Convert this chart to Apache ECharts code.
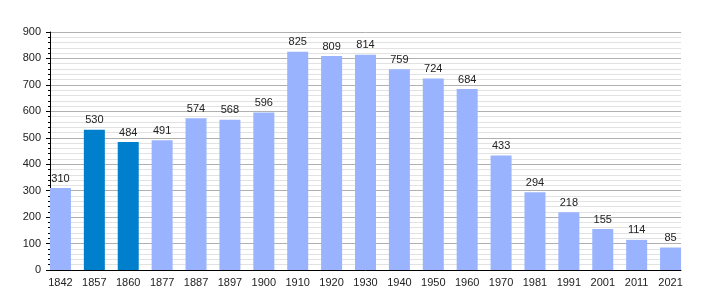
<!DOCTYPE html>
<html><head><meta charset="utf-8">
<script src="https://cdn.jsdelivr.net/npm/echarts@6/dist/echarts.min.js"></script>
<style>html,body{margin:0;padding:0;background:#fff}#c{width:710px;height:300px}</style>
</head><body><div id="c"></div>
<script>
var years = ['1842','1857','1860','1877','1887','1897','1900','1910','1920','1930','1940','1950','1960','1970','1981','1991','2001','2011','2021'];
var population = [310,530,484,491,574,568,596,825,809,814,759,724,684,433,294,218,155,114,85];
var highlighted = ['1857','1860'];
var yTicks = {min:0, max:900, interval:100};

var chart = echarts.init(document.getElementById('c'), null, {renderer:'canvas'});
var font = 'Liberation Sans, Arial, sans-serif';
chart.setOption({
  animation:false,
  backgroundColor:'#fff',
  grid:[
    {left:50, right:29, top:32, bottom:30},
    {left:43.5, right:22.5, top:32, bottom:30}
  ],
  xAxis:[
    {gridIndex:0, type:'value', min:0, max:1, z:5,
     axisLine:{show:true, onZero:false, lineStyle:{color:'#000', width:1}},
     axisTick:{show:false}, axisLabel:{show:false}, splitLine:{show:false}},
    {gridIndex:1, type:'category', data:years, boundaryGap:true,
     axisLine:{show:false}, axisTick:{show:false},
     axisLabel:{color:'#222', fontFamily:font, fontSize:11, margin:7, interval:0}}
  ],
  yAxis:[
    {gridIndex:0, type:'value', min:yTicks.min, max:yTicks.max, interval:yTicks.interval,
     axisLine:{show:true, lineStyle:{color:'#000', width:1}},
     axisTick:{show:true, length:4, lineStyle:{color:'#000'}},
     minorTick:{show:true, splitNumber:5, length:2, lineStyle:{color:'#000'}},
     splitLine:{show:true, lineStyle:{color:'#b0b0b0', width:1}},
     minorSplitLine:{show:true, lineStyle:{color:'#e2e2e2', width:1}},
     axisLabel:{color:'#222', fontFamily:font, fontSize:11, margin:9}},
    {gridIndex:1, type:'value', min:yTicks.min, max:yTicks.max, show:false, splitLine:{show:false}}
  ],
  series:[{
    type:'bar', xAxisIndex:1, yAxisIndex:1, barWidth:21, z:3,
    data: population.map(function(v,i){
      return {value:v, itemStyle:{color: highlighted.indexOf(years[i])>=0 ? '#0080cc' : '#99b3ff'}};
    }),
    label:{show:true, position:'top', distance:4, color:'#222', fontFamily:font, fontSize:11}
  }]
});
</script></body></html>
